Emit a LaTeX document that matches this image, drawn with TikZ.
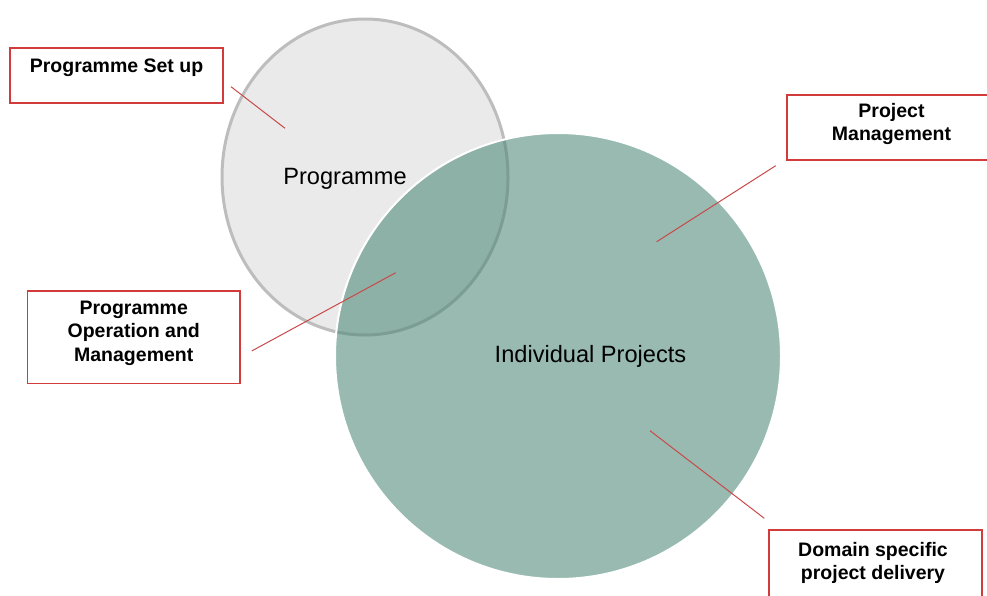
\documentclass[tikz,border=0pt]{standalone}
\usepackage{fontspec}
\setmainfont{Liberation Sans}
\usetikzlibrary{shapes.geometric,calc}
\definecolor{proggray}{HTML}{EAEAEA}
\definecolor{progedge}{HTML}{BDBDBD}
\definecolor{teal}{HTML}{498675}
\definecolor{boxred}{HTML}{D23B3B}
\definecolor{linered}{HTML}{C9494A}
\tikzset{
  progcirc/.style={ellipse, draw=progedge, fill=proggray, line width=3pt, inner sep=0pt},
  projcirc/.style={circle, draw=white, fill=teal, fill opacity=0.57, draw opacity=1, line width=2pt, inner sep=0pt},
  bigtxt/.style={font=\fontsize{23.6}{28}\selectfont, text=black, inner sep=0pt, anchor=base},
  lblbox/.style={draw=boxred, line width=1.5pt, fill=none, inner sep=0pt, anchor=north west},
  lbltxt/.style={font=\bfseries\fontsize{19.5}{23.3}\selectfont, align=center, inner sep=0pt, anchor=north, text=black},
  leader/.style={draw=linered, line width=1pt}
}
\begin{document}
\begin{tikzpicture}[x=1pt,y=-1pt]
\useasboundingbox (0,0) rectangle (987,595);
% circles
\node[progcirc, minimum width=286pt, minimum height=316pt] (prog) at (365,177) {};
\node[projcirc, minimum size=446pt] (proj) at (558,356) {};
\node[bigtxt] (progtxt) at (345,184) {Programme};
\node[bigtxt] (projtxt) at (590.5,362.5) {Individual Projects};
% leader end points
\coordinate (e1) at (285,128.3);
\coordinate (e2) at (395.7,272.7);
\coordinate (e3) at (656.7,241.7);
\coordinate (e4) at (650,430.7);
\coordinate (s1) at (231,86.7);
\coordinate (s2) at (251.7,351);
\coordinate (s3) at (775.7,165.7);
\coordinate (s4) at (764.3,518.3);
\draw[leader] (s1) -- (e1);
\draw[leader] (s2) -- (e2);
\draw[leader] (s3) -- (e3);
\draw[leader] (s4) -- (e4);
% label boxes
\node[lblbox, minimum width=213pt, minimum height=55pt] (b1) at (9.3,47.3) {};
\node[lbltxt] (t1) at ($(b1.north)+(0,11)$) {Programme Set up};
\node[lblbox, minimum width=212.6pt, minimum height=92.7pt] (b2) at (26.7,290) {};
\node[lbltxt] (t2) at ($(b2.north)+(0,11)$) {Programme\\Operation and\\Management};
\node[lblbox, minimum width=214pt, minimum height=65pt] (b3) at (786,94) {};
\node[lbltxt] (t3) at (891.5,103.3) {Project\\Management};
\node[lblbox, minimum width=212.7pt, minimum height=75pt] (b4) at (768.3,529) {};
\node[lbltxt] (t4) at (873,541.7) {Domain specific\\project delivery};
\end{tikzpicture}
\end{document}
